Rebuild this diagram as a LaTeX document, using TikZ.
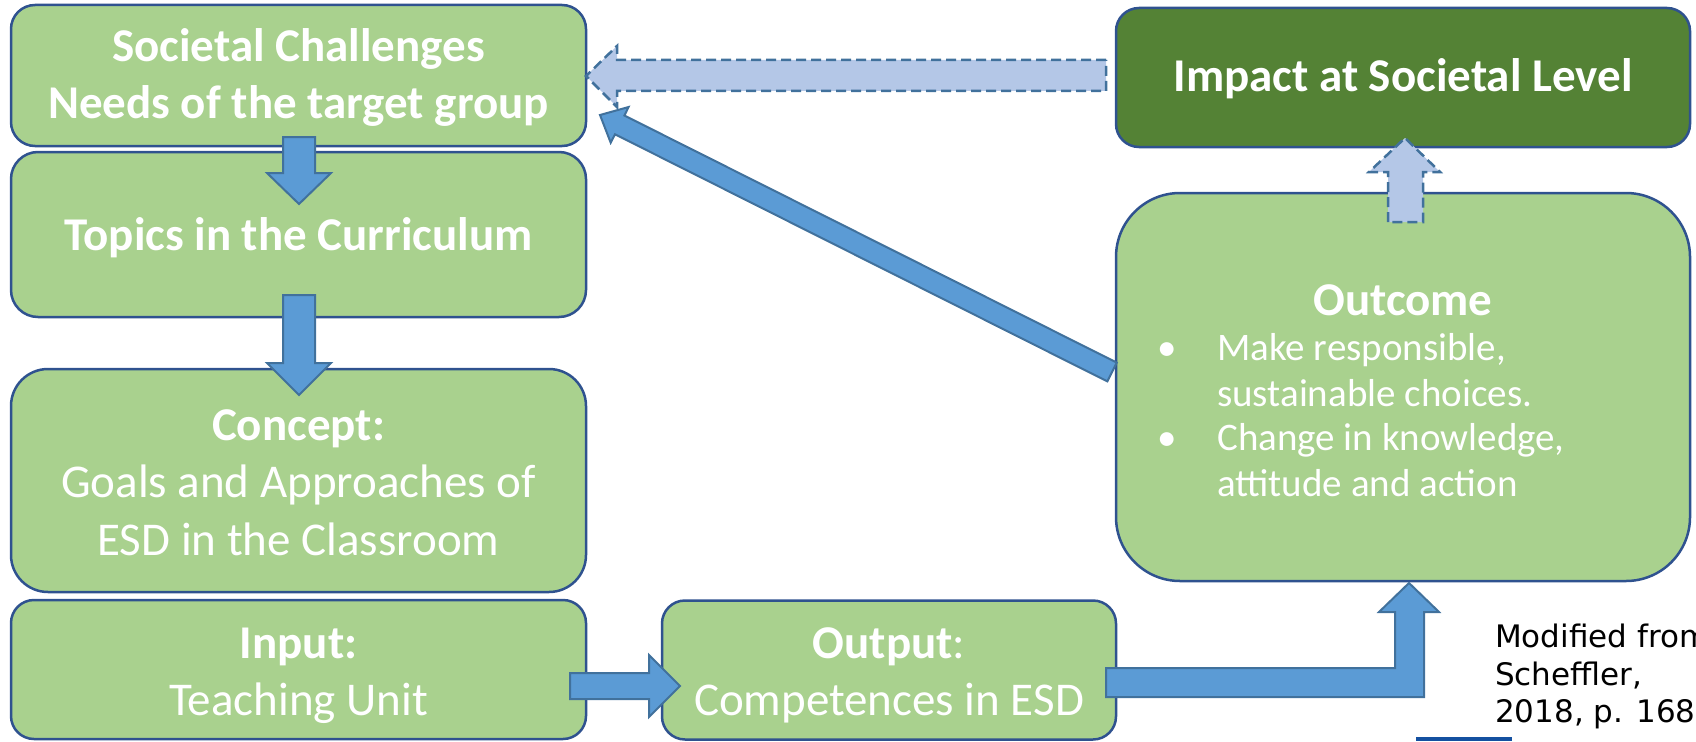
\documentclass[tikz,border=0pt]{standalone}
\usepackage{fontspec}
\setmainfont{Carlito}
\newfontfamily\citefont{DejaVu Sans}
\usetikzlibrary{calc}
\definecolor{boxgreen}{HTML}{A9D18E}
\definecolor{darkgreen}{HTML}{548235}
\definecolor{boxline}{HTML}{2F528F}
\definecolor{arrowfill}{HTML}{5B9BD5}
\definecolor{arrowline}{HTML}{41719C}
\definecolor{lightarrow}{HTML}{B4C7E7}
\definecolor{barblue}{HTML}{1450A0}
\begin{document}
\begin{tikzpicture}[x=1pt,y=-1pt,
 box/.style={draw=boxline, line width=2.5pt, fill=boxgreen, inner sep=0pt},
 titletext/.style={text=white, font=\fontsize{47pt}{57pt}\selectfont\bfseries, anchor=base, inner sep=0pt},
 plaintext/.style={text=white, font=\fontsize{47pt}{57pt}\selectfont, anchor=base, inner sep=0pt},
 bullettext/.style={text=white, font=\fontsize{39pt}{45pt}\selectfont, anchor=base west, inner sep=0pt},
 citetext/.style={text=black, font=\citefont\fontsize{31pt}{37pt}\selectfont, anchor=base west, inner sep=0pt},
 blockarrow/.style={draw=arrowline, line width=2pt, fill=arrowfill, line join=miter},
 dasharrow/.style={draw=arrowline, line width=2.5pt, fill=lightarrow, dash pattern=on 10pt off 5pt},
]
\useasboundingbox (0,0) rectangle (1696,741);

% boxes
\node[box, rounded corners=24pt, minimum width=575pt, minimum height=141pt] (soc) at (298.5,75.5) {};
\node[box, rounded corners=27pt, minimum width=575pt, minimum height=165pt] (top) at (298.5,234.5) {};
\node[box, rounded corners=37pt, minimum width=575pt, minimum height=223pt] (con) at (298.5,480.5) {};
\node[box, rounded corners=23pt, minimum width=575pt, minimum height=139pt] (inp) at (298.5,669.5) {};
\node[box, rounded corners=23pt, minimum width=454pt, minimum height=139pt] (out) at (889,670) {};
\node[box, rounded corners=64pt, minimum width=574pt, minimum height=388pt] (outc) at (1403,387) {};
\node[box, fill=darkgreen, rounded corners=23pt, minimum width=574pt, minimum height=139pt] (imp) at (1403,77.5) {};

% texts
\node[titletext] (socA) at (298.5,62) {Societal Challenges};
\node[titletext] (socB) at (298.5,118) {Needs of the target group};
\node[titletext] (topA) at (298.5,250) {Topics in the Curriculum};
\node[titletext] (conA) at (298.5,440) {Concept:};
\node[plaintext] (conB) at (298.5,497) {Goals and Approaches of};
\node[plaintext] (conC) at (298.5,555) {ESD in the Classroom};
\node[titletext] (inpA) at (298.5,658) {Input:};
\node[plaintext] (inpB) at (298.5,715) {Teaching Unit};
\node[plaintext] (outA) at (889,658) {\textbf{Output}:};
\node[plaintext] (outB) at (889,715) {Competences in ESD};
\node[titletext] (impA) at (1403,92) {Impact at Societal Level};
\node[titletext] (outcA) at (1403,315) {Outcome};
\node[bullettext] (dot1) at (1157,360) {•};
\node[bullettext] (b1a) at (1217,360) {Make responsible,};
\node[bullettext] (b1b) at (1217,406) {sustainable choices.};
\node[bullettext] (dot2) at (1157,450) {•};
\node[bullettext] (b2a) at (1217,450) {Change in knowledge,};
\node[bullettext] (b2b) at (1217,496) {attitude and action};

% citation
\node[citetext] (citeA) at (1495,647) {Modified from};
\node[citetext] (citeB) at (1495,685) {Scheffler,};
\node[citetext] (citeC) at (1495,722) {2018, p. 168};
\fill[barblue] (1416,737) rectangle (1512,741);

% block arrows
\draw[blockarrow] (283,137) -- (315,137) -- (315,173) -- (331,173) -- (299,204) -- (267,173) -- (283,173) -- cycle;
\draw[blockarrow] (283,295) -- (315,295) -- (315,363) -- (331,363) -- (299,395) -- (267,363) -- (283,363) -- cycle;
\draw[blockarrow] (570,673) -- (649,673) -- (649,655) -- (680,686) -- (649,717) -- (649,699) -- (570,699) -- cycle;
\draw[blockarrow] (1106,668) -- (1395,668) -- (1395,612) -- (1379,612) -- (1409,583) -- (1439,612) -- (1424,612) -- (1424,697) -- (1106,697) -- cycle;
\draw[blockarrow] (1116.7,362.6) -- (624.4,115.5) -- (628.6,107.0) -- (600,115) -- (610.7,142.7) -- (615.0,134.3) -- (1107.3,381.4) -- cycle;

% dashed arrows
\draw[dasharrow] (1106,60) -- (617,60) -- (617,46) -- (586,76) -- (617,107) -- (617,91) -- (1106,91) -- cycle;
\draw[dasharrow] (1388,222) -- (1388,172) -- (1369,172) -- (1405,138) -- (1440,172) -- (1423,172) -- (1423,222) -- cycle;
\end{tikzpicture}
\end{document}
